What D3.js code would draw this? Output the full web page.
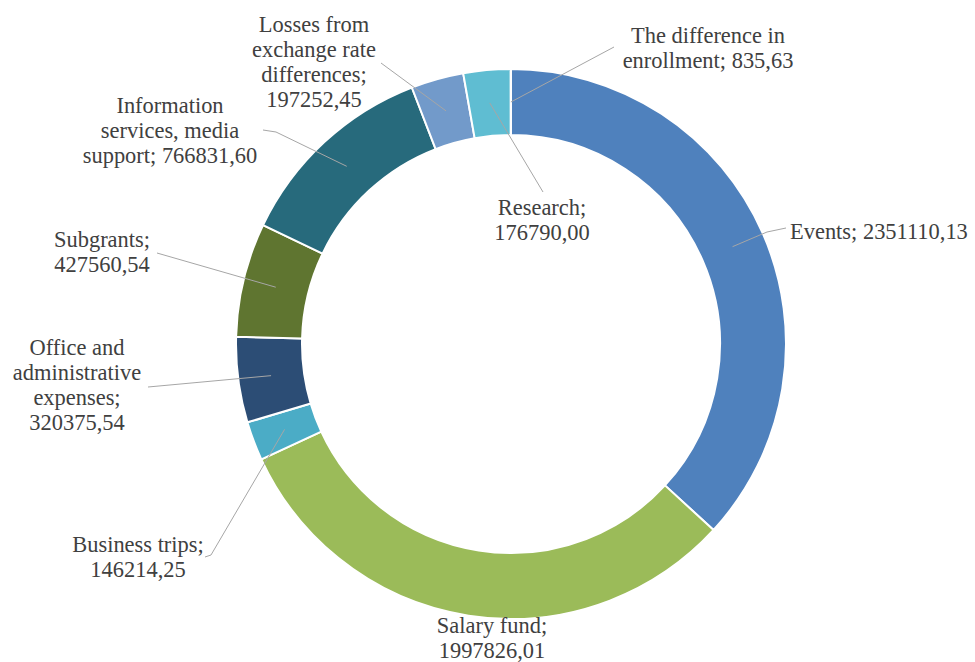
<!DOCTYPE html>
<html>
<head>
<meta charset="utf-8">
<script src="https://cdn.jsdelivr.net/npm/d3@7"></script>
<style>
  html, body { margin: 0; padding: 0; background: #fff; }
  svg { display: block; }
  .leader { fill: none; stroke: #a6a6a6; stroke-width: 1; }
  .lbl { font-family: 'Liberation Serif', 'DejaVu Serif', serif; fill: #404040; }
</style>
</head>
<body>
<script>
(function(window){
    'use strict'

    // data, clockwise from 12 o'clock
    var categories = ['Events', 'Salary fund', 'Business trips', 'Office and administrative expenses',
        'Subgrants', 'Information services, media support', 'Losses from exchange rate differences',
        'Research', 'The difference in enrollment'];
    var values = [2351110.13, 1997826.01, 146214.25, 320375.54, 427560.54, 766831.60, 197252.45, 176790.00, 835.63];
    var colors = ['#4f81bd', '#9bbb59', '#4bacc6', '#2c4d75', '#5f7530', '#276a7c', '#729aca', '#5fbdd2', '#afc97a'];

    // label layout: words per line, text position, leader points on the label side
    var labelLayout = [
        {words: [2],       x: 790, y: 239, anchor: 'start',  leader: [[786, 228], [767, 232]]},
        {words: [2, 1],    x: 492, y: 633, anchor: 'middle', leader: null},
        {words: [2, 1],    x: 138, y: 552, anchor: 'middle', leader: [[205, 557], [211, 555]]},
        {words: [2, 1, 1, 1], x: 77, y: 355, anchor: 'middle', leader: [[148, 387]]},
        {words: [1, 1],    x: 102, y: 247, anchor: 'middle', leader: [[157, 253]]},
        {words: [1, 2, 2], x: 170, y: 113, anchor: 'middle', leader: [[263, 130], [276, 132]]},
        {words: [2, 2, 1, 1], x: 314, y: 32, anchor: 'middle', leader: [[381, 63]]},
        {words: [1, 1],    x: 542, y: 215, anchor: 'middle', leader: [[543, 192]]},
        {words: [3, 2],    x: 708, y: 43, anchor: 'middle', leader: [[614, 47]]}
    ];

    var config = {width: 975, height: 662, cx: 511, cy: 344, outer: 275, inner: 209, lineHeight: 25,
        refWidth: 178};

    var fmt = d3.format('.2f');
    function labelText(i) {
        return categories[i] + '; ' + fmt(values[i]).replace('.', ',');
    }
    function splitLines(text, words) {
        var parts = text.split(' '), out = [], k = 0;
        words.forEach(function(n) {
            out.push(parts.slice(k, k + n).join(' '));
            k += n;
        });
        return out;
    }

    var svg = d3.select('body').append('svg')
        .attr('width', config.width)
        .attr('height', config.height);

    // size the font so the "Events" label is as wide as in the original
    var probe = svg.append('text')
        .attr('class', 'lbl')
        .style('font-size', '22px')
        .text(labelText(0));
    var fontSize = 22 * config.refWidth / probe.node().getComputedTextLength();
    fontSize = Math.max(16, Math.min(24, fontSize));
    probe.remove();

    var g = svg.append('g')
        .attr('transform', 'translate(' + config.cx + ',' + config.cy + ')');

    var pie = d3.pie().sort(null).value(function(d){ return d; });
    var arc = d3.arc().innerRadius(config.inner).outerRadius(config.outer);
    var arcs = pie(values);

    g.selectAll('path.slice')
        .data(arcs)
        .enter().append('path')
        .attr('class', 'slice')
        .attr('d', arc)
        .attr('fill', function(d, i){ return colors[i]; })
        .attr('stroke', '#fff')
        .attr('stroke-width', 2)
        .attr('stroke-linejoin', 'round');

    // leader lines: label side -> slice centroid
    var line = d3.line();
    arcs.forEach(function(a, i) {
        var lay = labelLayout[i];
        if (!lay.leader) return;
        var c = arc.centroid(a);
        var pts = lay.leader.map(function(p){ return [p[0] - config.cx, p[1] - config.cy]; });
        pts.push(c);
        g.append('path').attr('class', 'leader').attr('d', line(pts));
    });

    // labels
    labelLayout.forEach(function(lay, i) {
        var lines = splitLines(labelText(i), lay.words);
        var t = svg.append('text')
            .attr('class', 'lbl')
            .style('font-size', fontSize + 'px')
            .attr('text-anchor', lay.anchor);
        lines.forEach(function(s, j) {
            t.append('tspan')
                .attr('x', lay.x)
                .attr('y', lay.y + j * config.lineHeight)
                .text(s);
        });
    });

})(window);
</script>
</body>
</html>
